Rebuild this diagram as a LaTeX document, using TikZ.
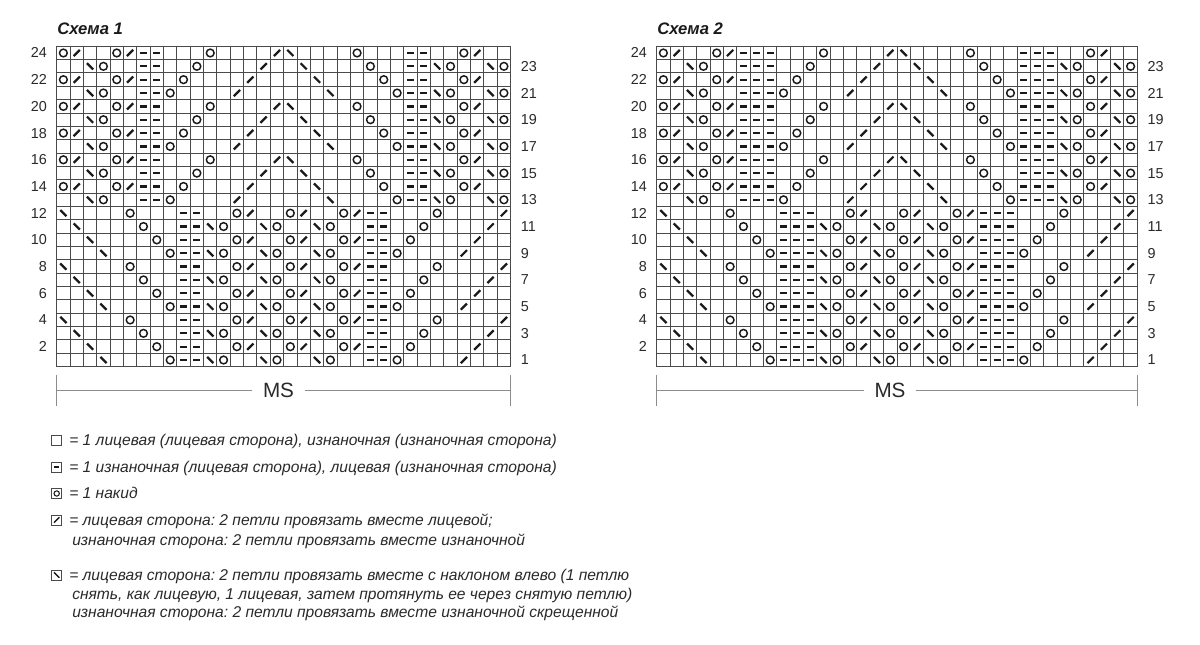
\documentclass[tikz,border=0pt]{standalone}
\usepackage{fontspec}
\setmainfont{Liberation Sans}
\frenchspacing
\definecolor{gridc}{HTML}{4A4A4A}
\definecolor{symc}{HTML}{1A1A1A}
\definecolor{txtc}{HTML}{2A2A2A}
\definecolor{msc}{HTML}{8C8C8C}
\def\cs{13.35}
\def\gy{46.3}
\tikzset{
  gridline/.style={draw=gridc, line width=0.75pt},
  yo/.style={draw=symc, line width=1.1pt},
  sym/.style={draw=symc, line width=1.7pt},
  rowlab/.style={font=\fontsize{10.8}{12}\selectfont, text=txtc, inner sep=0pt},
  titlelab/.style={font=\fontsize{12.5}{14}\selectfont\bfseries\itshape, text=symc, inner sep=0pt},
  mslab/.style={font=\fontsize{15.5}{17}\selectfont, text=txtc, inner xsep=8pt, inner ysep=0pt},
  msline/.style={draw=msc, line width=0.9pt},
  legbox/.style={draw=gridc, line width=0.6pt, minimum size=7.5pt, inner sep=0pt},
  legtxt/.style={font=\fontsize{11.7}{14}\selectfont\itshape, text=txtc, inner sep=0pt},
}
\newcommand\knO[3]{\foreach \c in {#3}{\draw[yo] ({#1+(\c-0.5)*\cs},{\gy+(24.5-#2)*\cs}) circle[radius=2.9pt];}}
\newcommand\knR[3]{\foreach \c in {#3}{\draw[sym] ({#1+(\c-0.5)*\cs},{\gy+(24.5-#2)*\cs}) ++(-3.1,3.1) -- ++(6.2,-6.2);}}
\newcommand\knL[3]{\foreach \c in {#3}{\draw[sym] ({#1+(\c-0.5)*\cs},{\gy+(24.5-#2)*\cs}) ++(-3.1,-3.1) -- ++(6.2,6.2);}}
\newcommand\knP[3]{\foreach \c in {#3}{\draw[sym] ({#1+(\c-0.5)*\cs},{\gy+(24.5-#2)*\cs}) ++(-3.6,0) -- ++(7.2,0);}}
\newcommand\krow[6]{\knO{#1}{#2}{#3}\knR{#1}{#2}{#4}\knL{#1}{#2}{#5}\knP{#1}{#2}{#6}}
\newcommand\kgrid[3]{%
  \foreach \i in {0,...,#2}{\draw[gridline] ({#1+\i*\cs},\gy) -- ({#1+\i*\cs},{\gy+24*\cs});}
  \foreach \j in {0,...,24}{\draw[gridline] (#1,{\gy+\j*\cs}) -- ({#1+#2*\cs},{\gy+\j*\cs});}
  \foreach \r in {2,4,...,24}{\node[rowlab,anchor=east] (#3L\r) at ({#1-9.5},{\gy+(24.5-\r)*\cs}) {\r};}
  \foreach \r in {1,3,...,23}{\node[rowlab,anchor=west] (#3R\r) at ({#1+#2*\cs+10},{\gy+(24.5-\r)*\cs}) {\r};}
}
\begin{document}
\begin{tikzpicture}[x=0.75pt,y=-0.75pt]
\useasboundingbox (0,0) rectangle (1200,645);
\fill[white] (0,0) rectangle (1200,645);

% ---------- Chart 1 ----------
\node[titlelab, anchor=base west] (title1) at (57,35) {Схема 1};
\kgrid{56.7}{34}{a}
\foreach \r in {24,20,16}{\krow{56.7}{\r}{1,5,12,23,31}{2,6,17,32}{18}{7,8,27,28}}
\foreach \r in {23,19,15}{\krow{56.7}{\r}{4,11,24,30,34}{16}{3,19,29,33}{7,8,27,28}}
\foreach \r in {22,18,14}{\krow{56.7}{\r}{1,5,10,25,31}{2,6,15,32}{20}{7,8,27,28}}
\foreach \r in {21,17,13}{\krow{56.7}{\r}{4,9,26,30,34}{14}{3,21,29,33}{7,8,27,28}}
\foreach \r in {12,8,4}{\krow{56.7}{\r}{6,14,18,22,29}{15,19,23,34}{1}{10,11,24,25}}
\foreach \r in {11,7,3}{\krow{56.7}{\r}{7,13,17,21,28}{33}{2,12,16,20}{10,11,24,25}}
\foreach \r in {10,6,2}{\krow{56.7}{\r}{8,14,18,22,27}{15,19,23,32}{3}{10,11,24,25}}
\foreach \r in {9,5,1}{\krow{56.7}{\r}{9,13,17,21,26}{31}{4,12,16,20}{10,11,24,25}}

\coordinate (m1a) at (56.7,390.5);
\coordinate (m1b) at (510.6,390.5);
\node[mslab] (ms1) at (278.5,390.5) {MS};
\draw[msline] ([yshift=11.25pt]m1a) -- ([yshift=-11.25pt]m1a);
\draw[msline] ([yshift=11.25pt]m1b) -- ([yshift=-11.25pt]m1b);
\draw[msline] (m1a) -- (ms1.west);
\draw[msline] (ms1.east) -- (m1b);

% ---------- Chart 2 ----------
\node[titlelab, anchor=base west] (title2) at (657,35) {Схема 2};
\kgrid{656.7}{36}{b}
\foreach \r in {24,20,16}{\krow{656.7}{\r}{1,5,13,24,33}{2,6,18,34}{19}{7,8,9,28,29,30}}
\foreach \r in {23,19,15}{\krow{656.7}{\r}{4,12,25,32,36}{17}{3,20,31,35}{7,8,9,28,29,30}}
\foreach \r in {22,18,14}{\krow{656.7}{\r}{1,5,11,26,33}{2,6,16,34}{21}{7,8,9,28,29,30}}
\foreach \r in {21,17,13}{\krow{656.7}{\r}{4,10,27,32,36}{15}{3,22,31,35}{7,8,9,28,29,30}}
\foreach \r in {12,8,4}{\krow{656.7}{\r}{6,15,19,23,31}{16,20,24,36}{1}{10,11,12,25,26,27}}
\foreach \r in {11,7,3}{\krow{656.7}{\r}{7,14,18,22,30}{35}{2,13,17,21}{10,11,12,25,26,27}}
\foreach \r in {10,6,2}{\krow{656.7}{\r}{8,15,19,23,29}{16,20,24,34}{3}{10,11,12,25,26,27}}
\foreach \r in {9,5,1}{\krow{656.7}{\r}{9,14,18,22,28}{33}{4,13,17,21}{10,11,12,25,26,27}}

\coordinate (m2a) at (656.7,390.5);
\coordinate (m2b) at (1137.3,390.5);
\node[mslab] (ms2) at (890,390.5) {MS};
\draw[msline] ([yshift=11.25pt]m2a) -- ([yshift=-11.25pt]m2a);
\draw[msline] ([yshift=11.25pt]m2b) -- ([yshift=-11.25pt]m2b);
\draw[msline] (m2a) -- (ms2.west);
\draw[msline] (ms2.east) -- (m2b);

% ---------- Legend ----------
\node[legbox] (b1) at (56.7,440.5) {};
\node[legtxt, anchor=base west] (t1) at (69,445.8) {= 1 лицевая (лицевая сторона), изнаночная (изнаночная сторона)};

\node[legbox] (b2) at (56.7,467) {};
\draw[symc, line width=1.1pt] ([xshift=-2pt]b2.center) -- ([xshift=2pt]b2.center);
\node[legtxt, anchor=base west] (t2) at (69,472.3) {= 1 изнаночная (лицевая сторона), лицевая (изнаночная сторона)};

\node[legbox] (b3) at (56.7,493.5) {};
\draw[symc, line width=0.8pt] (b3.center) circle[radius=2pt];
\node[legtxt, anchor=base west] (t3) at (69,498.8) {= 1 накид};

\node[legbox] (b4) at (56.7,520) {};
\draw[symc, line width=1.1pt] ([shift={(-2pt,-2pt)}]b4.center) -- ([shift={(2pt,2pt)}]b4.center);
\node[legtxt, anchor=base west] (t4) at (69,525.3) {= лицевая сторона: 2 петли провязать вместе лицевой;};
\node[legtxt, anchor=base west] (t4b) at (72,545) {изнаночная сторона: 2 петли провязать вместе изнаночной};

\node[legbox] (b5) at (56.7,575) {};
\draw[symc, line width=1.1pt] ([shift={(-2pt,2pt)}]b5.center) -- ([shift={(2pt,-2pt)}]b5.center);
\node[legtxt, anchor=base west] (t5) at (69,580.3) {= лицевая сторона: 2 петли провязать вместе с наклоном влево (1 петлю};
\node[legtxt, anchor=base west] (t5b) at (72,599) {снять, как лицевую, 1 лицевая, затем протянуть ее через снятую петлю)};
\node[legtxt, anchor=base west] (t5c) at (72,617) {изнаночная сторона: 2 петли провязать вместе изнаночной скрещенной};
\end{tikzpicture}
\end{document}
